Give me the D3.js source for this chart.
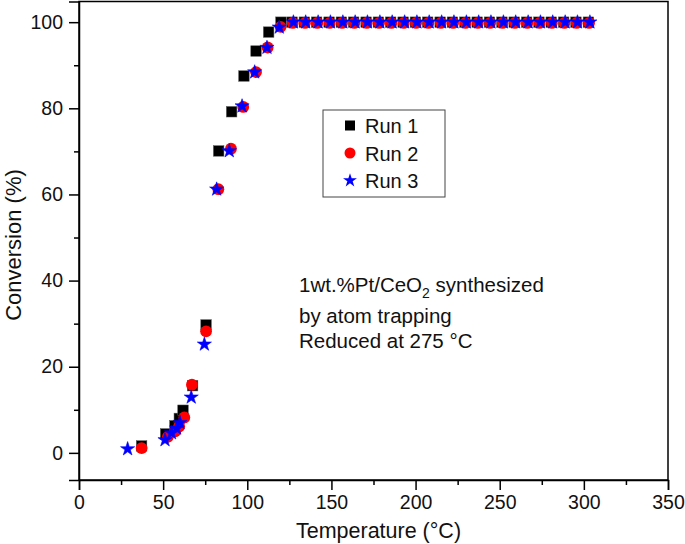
<!DOCTYPE html>
<html>
<head>
<meta charset="utf-8">
<script src="https://cdn.jsdelivr.net/npm/d3@7"></script>
<style>
  html, body { margin: 0; padding: 0; background: #fff; }
  svg { display: block; font-family: "Liberation Sans", Arial, Helvetica, sans-serif; }
</style>
</head>
<body>
<svg id="chart" width="685" height="544"></svg>
<script>
// ---- Data ----
const run1Temp = [37.2, 51.5, 57.0, 59.6, 61.8, 67.5, 75.5, 83.0, 90.7, 98.0, 105.2, 112.7, 120.0,
  126.6, 133.9, 141.2, 148.6, 155.9, 163.2, 170.6, 177.9, 185.2, 192.6, 199.9, 207.2, 214.6,
  221.9, 229.3, 236.6, 243.9, 251.3, 258.6, 266.0, 273.3, 280.6, 288.0, 295.3, 302.7];
const run1Conv = [1.6, 4.4, 6.3, 8.0, 9.9, 15.6, 29.7, 70.1, 79.2, 87.5, 93.3, 97.7, 100,
  100, 100, 100, 100, 100, 100, 100, 100, 100, 100, 100, 100, 100,
  100, 100, 100, 100, 100, 100, 100, 100, 100, 100, 100, 100];

const run2Temp = [37.2, 52.8, 57.2, 59.5, 62.6, 67.1, 75.5, 82.8, 90.3, 97.6, 105.2, 112.1, 119.8,
  127.0, 134.3, 141.6, 149.0, 156.3, 163.6, 171.0, 178.3, 185.6, 193.0, 200.3, 207.6, 215.0,
  222.3, 229.7, 237.0, 244.3, 251.7, 259.0, 266.4, 273.7, 281.0, 288.4, 295.7, 303.1];
const run2Conv = [1.3, 3.9, 5.2, 6.3, 8.4, 16.0, 28.4, 61.4, 70.8, 80.5, 88.6, 94.3, 99.1,
  100, 100, 100, 100, 100, 100, 100, 100, 100, 100, 100, 100, 100,
  100, 100, 100, 100, 100, 100, 100, 100, 100, 100, 100, 100];

const run3Temp = [28.9, 51.1, 55.0, 58.0, 60.0, 66.7, 74.5, 81.8, 89.3, 96.9, 104.4, 111.7, 119.0,
  127.4, 134.7, 142.1, 149.4, 156.8, 164.1, 171.4, 178.8, 186.1, 193.5, 200.8, 208.1, 215.5,
  222.8, 230.2, 237.5, 244.8, 252.2, 259.5, 266.9, 274.2, 281.5, 288.9, 296.2, 303.6];
const run3Conv = [0.9, 3.0, 4.6, 5.7, 7.0, 12.9, 25.2, 61.2, 70.1, 80.5, 88.4, 94.1, 98.8,
  100, 100, 100, 100, 100, 100, 100, 100, 100, 100, 100, 100, 100,
  100, 100, 100, 100, 100, 100, 100, 100, 100, 100, 100, 100];

const seriesNames = ["Run 1", "Run 2", "Run 3"];
const xTicks = [0, 50, 100, 150, 200, 250, 300, 350];
const yTicks = [0, 20, 40, 60, 80, 100];
const xLabel = "Temperature (°C)";
const yLabel = "Conversion (%)";
const noteLines = ["1wt.%Pt/CeO", "by atom trapping", "Reduced at 275 °C"];

// ---- Layout ----
const svg = d3.select("#chart");
const pLeft = 79, pRight = 668, pTop = 1.5, pBottom = 480;
const x = d3.scaleLinear().domain([0, 350]).range([pLeft, pRight]);
const y = d3.scaleLinear().domain([-6.3, 104.8]).range([pBottom, pTop]);

// frame
svg.append("rect")
  .attr("x", pLeft).attr("y", pTop)
  .attr("width", pRight - pLeft).attr("height", pBottom - pTop)
  .attr("fill", "none").attr("stroke", "#000").attr("stroke-width", 1.5);

// X axis
const xAxis = d3.axisBottom(x).tickValues(xTicks).tickSize(10).tickPadding(5).tickFormat(d3.format("d"));
const gx = svg.append("g").attr("transform", `translate(0,${pBottom})`).call(xAxis);
gx.select(".domain").attr("stroke-width", 1.5);
gx.selectAll(".tick line").attr("stroke-width", 1.5);
gx.selectAll(".tick text").attr("font-size", 19.5).attr("font-family", "Liberation Sans, Arial, sans-serif").attr("fill", "#111");
const xMinor = d3.axisBottom(x).tickValues(d3.range(25, 350, 50)).tickSize(5).tickFormat("");
const gxm = svg.append("g").attr("transform", `translate(0,${pBottom})`).call(xMinor);
gxm.select(".domain").remove();
gxm.selectAll(".tick line").attr("stroke-width", 1.5);

// Y axis
const yAxis = d3.axisLeft(y).tickValues(yTicks).tickSize(10).tickPadding(6).tickFormat(d3.format("d"));
const gy = svg.append("g").attr("transform", `translate(${pLeft},0)`).call(yAxis);
gy.select(".domain").attr("stroke-width", 1.5);
gy.selectAll(".tick line").attr("stroke-width", 1.5);
gy.selectAll(".tick text").attr("font-size", 19.5).attr("font-family", "Liberation Sans, Arial, sans-serif").attr("fill", "#111");
const yMinor = d3.axisLeft(y).tickValues([10, 30, 50, 70, 90]).tickSize(5).tickFormat("");
const gym = svg.append("g").attr("transform", `translate(${pLeft},0)`).call(yMinor);
gym.select(".domain").remove();
gym.selectAll(".tick line").attr("stroke-width", 1.5);

// Axis titles
svg.append("text")
  .attr("x", (pLeft + pRight) / 2 + 5).attr("y", 537.5)
  .attr("text-anchor", "middle").attr("font-size", 21.5).attr("fill", "#111")
  .text(xLabel);
svg.append("text")
  .attr("transform", `translate(21,245) rotate(-90)`)
  .attr("text-anchor", "middle").attr("font-size", 22).attr("fill", "#111")
  .text(yLabel);

// ---- Marks ----
const sq = 10.5, circR = 5.9, starSize = 62;
const d1 = run1Temp.map((t, i) => ({ t, c: run1Conv[i] }));
const d2 = run2Temp.map((t, i) => ({ t, c: run2Conv[i] }));
const d3s = run3Temp.map((t, i) => ({ t, c: run3Conv[i] }));

svg.append("g").selectAll("rect").data(d1).join("rect")
  .attr("x", d => x(d.t) - sq / 2).attr("y", d => y(d.c) - sq / 2)
  .attr("width", sq).attr("height", sq).attr("fill", "#000")
  .attr("stroke", "#555").attr("stroke-width", 0.5);

svg.append("g").selectAll("circle").data(d2).join("circle")
  .attr("cx", d => x(d.t)).attr("cy", d => y(d.c) + 0.8).attr("r", circR)
  .attr("fill", "#ff0000");

const star = d3.symbol().type(d3.symbolStar).size(starSize);
svg.append("g").selectAll("path").data(d3s).join("path")
  .attr("transform", d => `translate(${x(d.t)},${y(d.c)})`)
  .attr("d", star).attr("fill", "#0000ff")
  .attr("stroke", "#0000ff").attr("stroke-width", 0.6).attr("stroke-linejoin", "round");

// ---- Legend ----
const lg = svg.append("g");
lg.append("rect").attr("x", 323).attr("y", 110).attr("width", 122).attr("height", 87)
  .attr("fill", "#fff").attr("stroke", "#444").attr("stroke-width", 1);
const legY = [125.5, 153, 180.5];
lg.append("rect").attr("x", 350 - 5).attr("y", legY[0] - 5).attr("width", 10).attr("height", 10).attr("fill", "#000");
lg.append("circle").attr("cx", 350).attr("cy", legY[1]).attr("r", 5.5).attr("fill", "#ff0000");
lg.append("path").attr("transform", `translate(350,${legY[2]})`).attr("d", d3.symbol().type(d3.symbolStar).size(60)).attr("fill", "#0000ff");
seriesNames.forEach((n, i) => {
  lg.append("text").attr("x", 365).attr("y", legY[i] + 7.5)
    .attr("font-size", 20).attr("fill", "#111").text(n);
});

// ---- Annotation ----
const note = svg.append("g").attr("font-size", 20.5).attr("fill", "#111");
const t1 = note.append("text").attr("x", 299).attr("y", 291.5);
t1.append("tspan").text(noteLines[0]);
t1.append("tspan").attr("font-size", 14).attr("dy", 6).text("2");
t1.append("tspan").attr("dy", -6).text(" synthesized");
note.append("text").attr("x", 299).attr("y", 323).text(noteLines[1]);
note.append("text").attr("x", 299).attr("y", 347.5).text(noteLines[2]);
</script>
</body>
</html>
